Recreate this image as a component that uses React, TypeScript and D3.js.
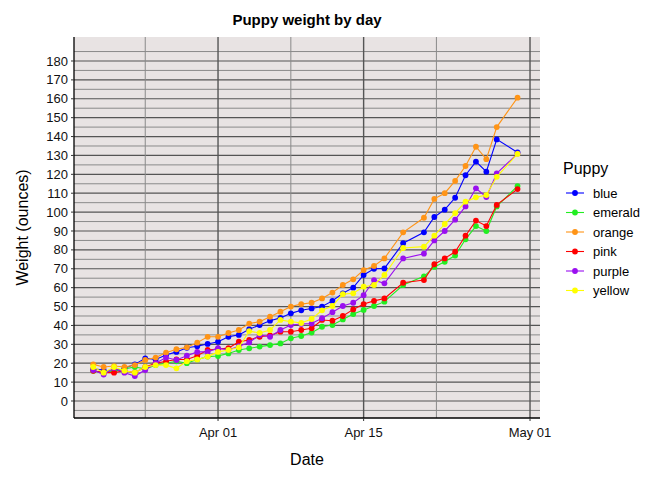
import * as d3 from "d3";

// day offsets from Apr 01
const days = [-12, -11, -10, -9, -8, -7, -6, -5, -4, -3, -2, -1, 0, 1, 2, 3, 4, 5, 6, 7, 8, 9, 10, 11, 12, 13, 14, 15, 16, 17.8, 19.8, 20.8, 21.8, 22.8, 23.8, 24.8, 25.8, 26.8, 28.8];

const blue = [17, 16.4, 15.5, 17.3, 19.4, 22.6, 22, 24.4, 26, 28.2, 29, 30.2, 31.4, 34, 35, 38, 40.2, 42.5, 44, 46.4, 48, 49, 50, 53, 57, 60, 66.7, 70, 70.2, 83.5, 89.3, 97.4, 101.3, 107.6, 119.5, 126.7, 121.4, 138.5, 131.6];
const emerald = [16, 15, 16, 17, 18, 17, 19, 20, 21, 20, 22, 23.5, 23.8, 25.2, 27, 27.9, 28.8, 29.6, 30.5, 33.2, 34.4, 36.2, 39.3, 40.2, 43.2, 46, 48.2, 50.3, 52.6, 61.4, 66, 71, 73.7, 77, 85.6, 92.6, 90, 103, 113.8];
const orange = [19.4, 18, 18.5, 18, 19, 21.7, 23, 25.6, 27.4, 28.4, 30.9, 34, 34, 36, 37.6, 41, 42, 44.6, 47.3, 50, 51.3, 52, 54.3, 57.4, 61.4, 64.4, 69.3, 71.5, 75.5, 89.3, 97, 107, 110, 116.5, 124.4, 134.6, 128, 145, 160.6];
const pink = [16, 15, 15, 16, 15, 18, 20, 21, 22, 22, 24, 27, 27.5, 28, 31.4, 32.3, 34, 34.7, 36.7, 36.7, 37.6, 38.5, 42.9, 42.5, 45, 48.5, 51.3, 53, 54.3, 62.6, 64, 72.4, 75.5, 79, 87.5, 95.5, 92.6, 103.8, 112.2];
const purple = [16.4, 14, 17.5, 15, 13.2, 16.4, 20, 23, 21.7, 24, 26, 26, 28, 27, 29, 31, 35, 34, 37.6, 40.2, 40.8, 41, 43.8, 47, 50.3, 52, 56, 64, 62.3, 75.5, 78, 85, 90, 96, 103, 112.6, 108, 120.5, 131];
const yellow = [18, 15, 18, 16, 15, 18, 19, 19, 17.3, 21, 22, 23.5, 26, 27, 28.4, 37, 36, 37.6, 42.9, 42, 41.3, 43.4, 48, 50.3, 56.6, 57, 60.5, 61.4, 66.7, 81, 81.7, 87.5, 93.7, 99.5, 105.5, 107.8, 109, 118.7, 130.8];

const puppies = ["blue", "emerald", "orange", "pink", "purple", "yellow"];
const colors = ["#0000FF", "#22EE22", "#FF9416", "#FF0000", "#9A0FF0", "#FFFF00"];
const seriesValues = [blue, emerald, orange, pink, purple, yellow];
const yTicks = d3.range(0, 181, 10);
const xTickLabels = ["Apr 01", "Apr 15", "May 01"];

const apr1 = new Date(2024, 3, 1);
const toDate = (d: number) => new Date(apr1.getTime() + d * 864e5);

export default function App() {
  const W = 672, H = 480;
  const L = 74, R = 540, T = 37, B = 418;
  const x = d3.scaleTime().domain([toDate(-13.85), toDate(30.96)]).range([L, R]);
  const y = d3.scaleLinear().domain([-9, 192.7]).range([B, T]);
  const major = [toDate(0), toDate(14), toDate(30)];
  const minor = [toDate(-7), toDate(7), toDate(21)];
  const line = d3.line<[number, number]>().x((d) => x(toDate(d[0]))).y((d) => y(d[1]));
  const font = "Liberation Sans, Arial, sans-serif";

  return (
    <svg width={W} height={H} style={{ position: "absolute", left: 0, top: 0 }} fontFamily={font}>
      <rect x={0} y={0} width={W} height={H} fill="white" />
      <rect x={L} y={T} width={R - L} height={B - T} fill="#E8E3E3" />
      {yTicks.map((v) => (
        <line key={"m" + v} x1={L} x2={R} y1={y(v + 5)} y2={y(v + 5)} stroke="#8a8a8a" strokeWidth={1} />
      ))}
      <line x1={L} x2={R} y1={y(-5)} y2={y(-5)} stroke="#8a8a8a" />
      {yTicks.map((v) => (
        <line key={v} x1={L} x2={R} y1={y(v)} y2={y(v)} stroke="#555" strokeWidth={1.2} />
      ))}
      {minor.map((d, i) => (
        <line key={"vm" + i} x1={x(d)} x2={x(d)} y1={T} y2={B} stroke="#8a8a8a" />
      ))}
      {major.map((d, i) => (
        <line key={"v" + i} x1={x(d)} x2={x(d)} y1={T} y2={B} stroke="#555" strokeWidth={1.4} />
      ))}
      {seriesValues.map((vals, i) => {
        const pts = days.map((d, j) => [d, vals[j]] as [number, number]);
        return (
          <g key={puppies[i]}>
            <path d={line(pts) || ""} fill="none" stroke={colors[i]} strokeWidth={1.1} />
            {pts.map((p, j) => (
              <circle key={j} cx={x(toDate(p[0]))} cy={y(p[1])} r={2.9} fill={colors[i]} />
            ))}
          </g>
        );
      })}
      <line x1={L} x2={L} y1={T} y2={B} stroke="black" strokeWidth={1.3} />
      <line x1={L} x2={R} y1={B} y2={B} stroke="black" strokeWidth={1.3} />
      {yTicks.map((v) => (
        <g key={"t" + v}>
          <line x1={L - 3} x2={L} y1={y(v)} y2={y(v)} stroke="#333" />
          <text x={L - 6} y={y(v)} dy="0.35em" textAnchor="end" fontSize={13} fill="#111">{v}</text>
        </g>
      ))}
      {major.map((d, i) => (
        <g key={"xt" + i}>
          <line x1={x(d)} x2={x(d)} y1={B} y2={B + 3} stroke="#333" />
          <text x={x(d)} y={B + 19} textAnchor="middle" fontSize={13} fill="#111">{xTickLabels[i]}</text>
        </g>
      ))}
      <text x={(L + R) / 2} y={25} textAnchor="middle" fontSize={15} fontWeight="bold">Puppy weight by day</text>
      <text x={(L + R) / 2} y={465} textAnchor="middle" fontSize={16}>Date</text>
      <text transform={`translate(28,${(T + B) / 2}) rotate(-90)`} textAnchor="middle" fontSize={16}>Weight (ounces)</text>
      <text x={563} y={174} fontSize={16}>Puppy</text>
      {puppies.map((p, i) => (
        <g key={"lg" + p} transform={`translate(0,${193 + i * 19.5})`}>
          <line x1={566} x2={584} y1={0} y2={0} stroke={colors[i]} strokeWidth={1.1} />
          <circle cx={575} cy={0} r={2.9} fill={colors[i]} />
          <text x={593} y={0} dy="0.35em" fontSize={13}>{p}</text>
        </g>
      ))}
    </svg>
  );
}
